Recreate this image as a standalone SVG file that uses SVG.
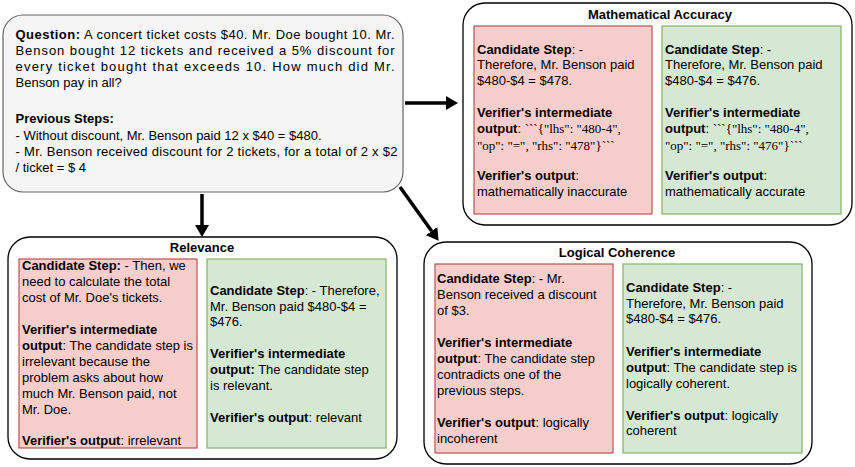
<svg xmlns="http://www.w3.org/2000/svg" width="855" height="467" viewBox="0 0 855 467">
<defs>
<style>
text{font-family:"Liberation Sans",Arial,sans-serif;font-size:13px;fill:#000}
.b{font-weight:bold}
.s{font-family:"Liberation Serif","Times New Roman",serif}
.t{font-weight:bold;text-anchor:middle}
.outer{fill:#fff;stroke:#000;stroke-width:1.3}
.q{fill:#f5f5f5;stroke:#666;stroke-width:1.2}
.red{fill:#f8cecc;stroke:#b85450;stroke-width:1.2}
.green{fill:#d5e8d4;stroke:#82b366;stroke-width:1.2}
.conn{stroke:#000;stroke-width:3.5;fill:none}
</style>
<marker id="ah" markerUnits="userSpaceOnUse" markerWidth="12" markerHeight="14" viewBox="0 0 12 14" refX="0" refY="7" orient="auto">
<path d="M0,0 L12,7 L0,14 Z" fill="#000"/>
</marker>
</defs>

<g id="question">
<rect class="q" x="3" y="15" width="400" height="177" rx="20" ry="20"/>
<text x="15.5" y="38.5" textLength="379" lengthAdjust="spacing"><tspan class="b">Question:</tspan> A concert ticket costs $40. Mr. Doe bought 10. Mr.</text>
<text x="15.5" y="55" textLength="379" lengthAdjust="spacing">Benson bought 12 tickets and received a 5% discount for</text>
<text x="15.5" y="71" textLength="379" lengthAdjust="spacing">every ticket bought that exceeds 10. How much did Mr.</text>
<text x="15.5" y="87">Benson pay in all?</text>
<text x="15.5" y="123" class="b">Previous Steps:</text>
<text x="15.5" y="139.5">- Without discount, Mr. Benson paid 12 x $40 = $480.</text>
<text x="15.5" y="156" textLength="382" lengthAdjust="spacing">- Mr. Benson received discount for 2 tickets, for a total of 2 x $2</text>
<text x="15.5" y="172">/ ticket = $ 4</text>
</g>

<g id="mathematical-accuracy">
<rect class="outer" x="463" y="3" width="389" height="222" rx="22" ry="22"/>
<text class="t" x="660" y="18.5">Mathematical Accuracy</text>
<rect class="red" x="474" y="26" width="178" height="188"/>
<text x="477" y="53.5"><tspan class="b">Candidate Step</tspan>: -</text>
<text x="477" y="69">Therefore, Mr. Benson paid</text>
<text x="477" y="85">$480-$4 = $478.</text>
<text x="477" y="117" class="b">Verifier's intermediate</text>
<text x="477" y="133"><tspan class="b">output</tspan>: <tspan class="s">```{"lhs": "480-4",</tspan></text>
<text x="477" y="149.5" class="s">"op": "=", "rhs": "478"}```</text>
<text x="477" y="180"><tspan class="b">Verifier's output</tspan>:</text>
<text x="477" y="196">mathematically inaccurate</text>
<rect class="green" x="662" y="26" width="179" height="188"/>
<text x="665" y="53.5"><tspan class="b">Candidate Step</tspan>: -</text>
<text x="665" y="69">Therefore, Mr. Benson paid</text>
<text x="665" y="85">$480-$4 = $476.</text>
<text x="665" y="117" class="b">Verifier's intermediate</text>
<text x="665" y="133"><tspan class="b">output</tspan>: <tspan class="s">```{"lhs": "480-4",</tspan></text>
<text x="665" y="149.5" class="s">"op": "=", "rhs": "476"}```</text>
<text x="665" y="180"><tspan class="b">Verifier's output</tspan>:</text>
<text x="665" y="196">mathematically accurate</text>
</g>

<g id="relevance">
<rect class="outer" x="8" y="237" width="389" height="222" rx="22" ry="22"/>
<text class="t" x="202" y="251.5">Relevance</text>
<rect class="red" x="19" y="259" width="178" height="189"/>
<text x="22" y="269.5"><tspan class="b">Candidate Step:</tspan> - Then, we</text>
<text x="22" y="285.5">need to calculate the total</text>
<text x="22" y="301.5">cost of Mr. Doe's tickets.</text>
<text x="22" y="333.5" class="b">Verifier's intermediate</text>
<text x="22" y="349.5"><tspan class="b">output</tspan>: The candidate step is</text>
<text x="22" y="365.5">irrelevant because the</text>
<text x="22" y="381.5">problem asks about how</text>
<text x="22" y="397.5">much Mr. Benson paid, not</text>
<text x="22" y="413.5">Mr. Doe.</text>
<text x="22" y="445"><tspan class="b">Verifier's output</tspan>: irrelevant</text>
<rect class="green" x="207" y="259" width="179" height="189"/>
<text x="210" y="294.5"><tspan class="b">Candidate Step</tspan>: - Therefore,</text>
<text x="210" y="310.5">Mr. Benson paid $480-$4 =</text>
<text x="210" y="326">$476.</text>
<text x="210" y="357.5" class="b">Verifier's intermediate</text>
<text x="210" y="373.5"><tspan class="b">output:</tspan> The candidate step</text>
<text x="210" y="389.5">is relevant.</text>
<text x="210" y="421.5"><tspan class="b">Verifier's output</tspan>: relevant</text>
</g>

<g id="logical-coherence">
<rect class="outer" x="424" y="242" width="388" height="222" rx="22" ry="22"/>
<text class="t" x="617" y="256.5">Logical Coherence</text>
<rect class="red" x="435" y="264" width="178" height="189"/>
<text x="437" y="282.5"><tspan class="b">Candidate Step</tspan>: - Mr.</text>
<text x="437" y="298.5">Benson received a discount</text>
<text x="437" y="314.5">of $3.</text>
<text x="437" y="346.5" class="b">Verifier's intermediate</text>
<text x="437" y="362.5"><tspan class="b">output</tspan>: The candidate step</text>
<text x="437" y="378.5">contradicts one of the</text>
<text x="437" y="394.5">previous steps.</text>
<text x="437" y="426.5"><tspan class="b">Verifier's output</tspan>: logically</text>
<text x="437" y="442.5">incoherent</text>
<rect class="green" x="623" y="264" width="179" height="189"/>
<text x="626" y="291.5"><tspan class="b">Candidate Step</tspan>: -</text>
<text x="626" y="307.5">Therefore, Mr. Benson paid</text>
<text x="626" y="323">$480-$4 = $476.</text>
<text x="626" y="355.5" class="b">Verifier's intermediate</text>
<text x="626" y="371.5"><tspan class="b">output</tspan>: The candidate step is</text>
<text x="626" y="387.5">logically coherent.</text>
<text x="626" y="419.5"><tspan class="b">Verifier's output</tspan>: logically</text>
<text x="626" y="435">coherent</text>
</g>

<g id="connectors">
<path class="conn" d="M405,103 L446,103" marker-end="url(#ah)"/>
<path class="conn" d="M202,194 L202,225" marker-end="url(#ah)"/>
<path class="conn" d="M400,187 L431.6,231.1" marker-end="url(#ah)"/>
</g>
</svg>
